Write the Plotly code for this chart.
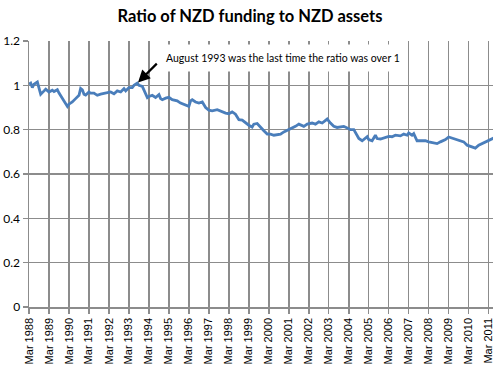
import plotly.graph_objects as go

dates = [
    "1988-03", "1988-04", "1988-05", "1988-06", "1988-08", "1988-09", "1988-10", "1988-12",
    "1989-01", "1989-03", "1989-05", "1989-06", "1989-08", "1989-09", "1989-11",
    "1990-01", "1990-02", "1990-03", "1990-05", "1990-07", "1990-09", "1990-10", "1990-11", "1990-12",
    "1991-01", "1991-03", "1991-04", "1991-06", "1991-08", "1991-10",
    "1992-01", "1992-04", "1992-06", "1992-08", "1992-10", "1992-12",
    "1993-01", "1993-03", "1993-05", "1993-06", "1993-08", "1993-09", "1993-11",
    "1994-01", "1994-02", "1994-03", "1994-05", "1994-07", "1994-09", "1994-10", "1994-11",
    "1995-01", "1995-03", "1995-05", "1995-08", "1995-10",
    "1996-01", "1996-03", "1996-04", "1996-05", "1996-07", "1996-09", "1996-11",
    "1997-01", "1997-03", "1997-05", "1997-08", "1997-11",
    "1998-01", "1998-03", "1998-05", "1998-07", "1998-09", "1998-11",
    "1999-01", "1999-03", "1999-05", "1999-06", "1999-08", "1999-10", "1999-12",
    "2000-02", "2000-04", "2000-06", "2000-08", "2000-10", "2000-12",
    "2001-03", "2001-05", "2001-07", "2001-09", "2001-12",
    "2002-02", "2002-05", "2002-07", "2002-09", "2002-11",
    "2003-01", "2003-02", "2003-04", "2003-06", "2003-08", "2003-10", "2003-12",
    "2004-02", "2004-04", "2004-06", "2004-07", "2004-09", "2004-11",
    "2005-01", "2005-02", "2005-03", "2005-05", "2005-07", "2005-08", "2005-10", "2005-12",
    "2006-03", "2006-05", "2006-07", "2006-10", "2006-12",
    "2007-02", "2007-03", "2007-05", "2007-06", "2007-08", "2007-11",
    "2008-01", "2008-03", "2008-06", "2008-08", "2008-10",
    "2009-01", "2009-03", "2009-06", "2009-09", "2009-12",
    "2010-02", "2010-05", "2010-07", "2010-09", "2010-12",
    "2011-02", "2011-04", "2011-06",
]
ratio = [
    1.005, 1.01, 0.99, 1.005, 1.015, 0.99, 0.96, 0.975,
    0.983, 0.97, 0.978, 0.972, 0.98, 0.965, 0.94,
    0.92, 0.905, 0.915, 0.925, 0.94, 0.955, 0.986, 0.98, 0.96,
    0.956, 0.97, 0.965, 0.965, 0.955, 0.96,
    0.965, 0.97, 0.962, 0.975, 0.97, 0.985,
    0.975, 0.99, 0.99, 1.0, 1.01, 1.0, 0.995,
    0.965, 0.945, 0.95, 0.955, 0.945, 0.958, 0.94, 0.935,
    0.942, 0.946, 0.935, 0.93, 0.92,
    0.91, 0.905, 0.93, 0.935, 0.925, 0.92, 0.925,
    0.9, 0.888, 0.885, 0.89, 0.88,
    0.875, 0.872, 0.88, 0.87, 0.845, 0.843,
    0.83, 0.82, 0.812, 0.825, 0.828, 0.81, 0.795,
    0.78, 0.78, 0.775, 0.778, 0.78, 0.79,
    0.8, 0.81, 0.815, 0.825, 0.815,
    0.825, 0.83, 0.825, 0.835, 0.83,
    0.84, 0.848, 0.83, 0.815, 0.81, 0.812, 0.815,
    0.808, 0.8, 0.8, 0.785, 0.76, 0.75,
    0.765, 0.768, 0.755, 0.75, 0.775, 0.76, 0.758, 0.762,
    0.77, 0.768, 0.775, 0.772, 0.78,
    0.775, 0.785, 0.775, 0.782, 0.75, 0.748,
    0.75, 0.745, 0.74, 0.737, 0.745,
    0.755, 0.767, 0.76, 0.75, 0.745,
    0.73, 0.722, 0.717, 0.73, 0.74,
    0.75, 0.755, 0.762,
]
tick_years = list(range(1988, 2012))
tick_vals = [f"{y}-03-01" for y in tick_years]
tick_text = [f"Mar {y}" for y in tick_years]

title_text = "Ratio of NZD funding to NZD assets"
note_text = "August 1993 was the last time the ratio was over 1"
note_date = "1993-08"
note_value = 1.01

fig = go.Figure()
fig.add_trace(go.Scatter(
    x=dates, y=ratio, mode="lines",
    line=dict(color="#4a7ebb", width=2.8),
    showlegend=False, hoverinfo="skip",
))

grid = "#8c8c8c"
fig.update_layout(
    width=500, height=368,
    margin=dict(l=29, r=7, t=41, b=61),
    paper_bgcolor="white", plot_bgcolor="white",
    title=dict(text=f"<b>{title_text}</b>", x=0.5, xanchor="center", y=0.957, yanchor="middle",
               font=dict(family="Lato, Open Sans, sans-serif", size=16.5, color="black")),
    xaxis=dict(
        type="date", range=["1988-03-01", "2011-05-20"], automargin=False,
        tickvals=tick_vals, ticktext=tick_text, tickangle=-90,
        tickfont=dict(family="Liberation Sans, Arial, sans-serif", size=11, color="black"),
        showgrid=True, gridcolor=grid, gridwidth=1.5,
        showline=True, linecolor=grid, linewidth=1.5,
        ticks="outside", ticklen=5, tickcolor=grid, tickwidth=1.5,
        zeroline=False,
    ),
    yaxis=dict(
        range=[0, 1.2], dtick=0.2, tick0=0, automargin=False,
        tickfont=dict(family="Lato, Open Sans, sans-serif", size=12, color="black"),
        showgrid=True, gridcolor=grid, gridwidth=1.5,
        showline=True, linecolor=grid, linewidth=1.5,
        ticks="outside", ticklen=5, tickcolor=grid, tickwidth=1.5,
        zeroline=False,
    ),
)

fig.add_annotation(
    x=0.547, y=0.936, xref="paper", yref="paper", yanchor="middle",
    text=note_text, showarrow=False,
    font=dict(family="Lato, Open Sans, sans-serif", size=10.5, color="black"),
    bgcolor="white", borderpad=7,
)
fig.add_annotation(
    x=note_date, y=note_value, xref="x", yref="y",
    text="", showarrow=True, arrowhead=2, arrowsize=1.1, arrowwidth=2.2,
    arrowcolor="black", ax=21, ay=-21, standoff=1,
)

# remove the browser's default 8px body margin so the figure fills the window exactly
fig.write_html("out.html", config={"displayModeBar": False, "staticPlot": True},
               post_script="document.body.style.margin='0px';")
